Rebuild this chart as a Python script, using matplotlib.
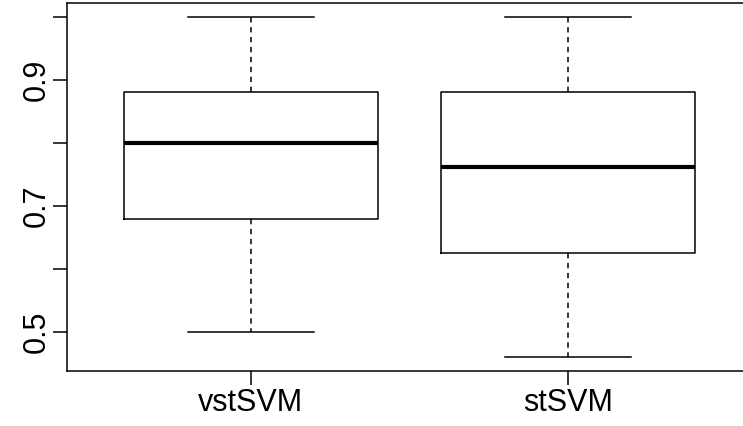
import matplotlib
matplotlib.use("Agg")
import matplotlib.pyplot as plt

plt.rcParams['font.family'] = ['Liberation Sans', 'DejaVu Sans']

# 箱线图数据
labels = ["vstSVM", "stSVM"]
whisker_low = [0.50, 0.46]
q1 = [0.68, 0.625]
median = [0.80, 0.762]
q3 = [0.88, 0.88]
whisker_high = [1.00, 1.00]

stats = []
for i in range(len(labels)):
    stats.append({
        "label": labels[i],
        "whislo": whisker_low[i],
        "q1": q1[i],
        "med": median[i],
        "q3": q3[i],
        "whishi": whisker_high[i],
        "fliers": [],
    })

fig = plt.figure(figsize=(7.43, 4.26), dpi=100)
ax = fig.add_axes([67 / 743, 55 / 426, 685 / 743, 368 / 426])

lw = 1.1
ax.bxp(stats, positions=[1, 2], widths=0.8, showfliers=False,
       boxprops=dict(color="black", linewidth=lw),
       medianprops=dict(color="black", linewidth=3.0, solid_capstyle="butt"),
       whiskerprops=dict(color="black", linewidth=lw, linestyle=(0, (3.5, 3))),
       capprops=dict(color="black", linewidth=lw),
       capwidths=0.4)

lo = min(whisker_low)
hi = max(whisker_high)
pad = (hi - lo) * 0.04
ax.set_ylim(lo - pad, hi + pad)
ax.set_xlim(0.42, 2.58)

ax.set_yticks([0.5, 0.6, 0.7, 0.8, 0.9, 1.0])
ax.set_yticklabels(["0.5", "", "0.7", "", "0.9", ""], rotation=90, va="center")
ax.set_xticks([1, 2])
ax.set_xticklabels(labels)
ax.tick_params(axis="both", length=10, width=lw, labelsize=22, colors="black")
ax.tick_params(axis="x", pad=2)
ax.tick_params(axis="y", pad=1)

for s in ax.spines.values():
    s.set_linewidth(lw)

fig.savefig("out.png", dpi=100)
